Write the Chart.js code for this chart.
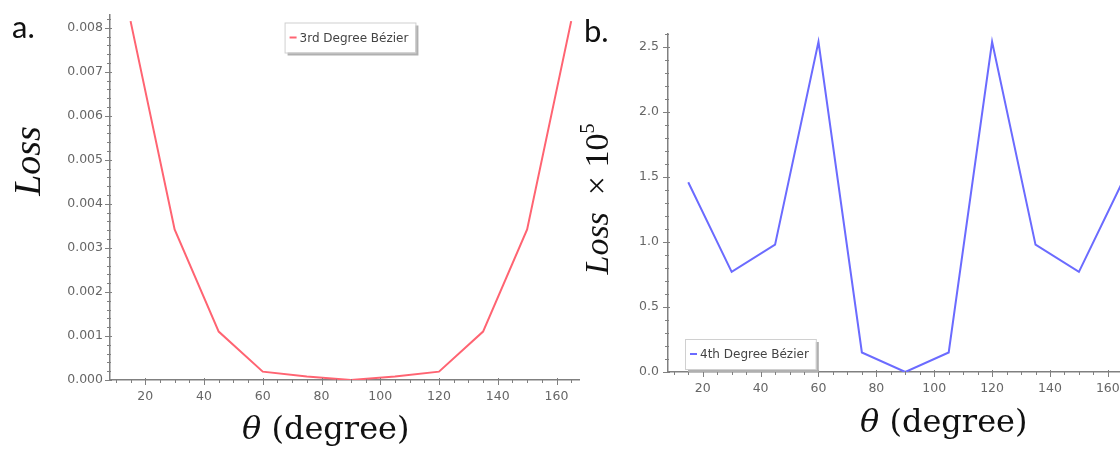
<!DOCTYPE html>
<html>
<head>
<meta charset="utf-8">
<script src="https://cdn.jsdelivr.net/npm/chart.js@4.4.1/dist/chart.umd.min.js"></script>
<style>
    html, body { margin: 0; padding: 0; overflow: hidden; background: #fff; }
    body { width: 1120px; height: 452px; position: relative; }
    canvas { position: absolute; top: 0; }
    #chartA { left: 0; }
    #chartB { left: 580px; }
</style>
</head>
<body>
<canvas id="chartA" width="580" height="452"></canvas>
<canvas id="chartB" width="551" height="452"></canvas>
<script>
// theta in degrees
const angles = [15, 30, 45, 60, 75, 90, 105, 120, 135, 150, 165];
// loss of the 3rd degree Bezier fit
const lossCubic = [0.00815, 0.00342, 0.0011, 0.00019, 0.00008, 0, 0.00008, 0.00019, 0.0011, 0.00342, 0.00815];
// loss of the 4th degree Bezier fit (x 10^5)
const lossQuartic = [1.46, 0.77, 0.98, 2.54, 0.15, 0, 0.15, 2.54, 0.98, 0.77, 1.46];

const xTicks = [20, 40, 60, 80, 100, 120, 140, 160];
const yTicksA = [0, 0.001, 0.002, 0.003, 0.004, 0.005, 0.006, 0.007, 0.008];
const yTicksB = [0, 0.5, 1.0, 1.5, 2.0, 2.5];

const axisColor = '#808080';
const tickFont = { family: 'DejaVu Sans', size: 12.5 };

// ticks, legend box, axis titles and panel letter (sage-style figure)
const decorPlugin = {
    id: 'decor',
    afterDraw(chart, args, opts) {
        const { ctx, chartArea: area, scales } = chart;
        const x = scales.x, y = scales.y;
        ctx.save();

        // major + minor ticks
        ctx.strokeStyle = axisColor;
        ctx.lineWidth = 1;
        ctx.beginPath();
        for (let i = Math.ceil(x.min / 5); i * 5 <= x.max; i++) {
            const px = Math.round(x.getPixelForValue(i * 5)) + 0.5;
            const major = i % 4 === 0;
            ctx.moveTo(px, area.bottom - (major ? 2 : 1));
            ctx.lineTo(px, area.bottom + (major ? 5 : 3));
        }
        const n = Math.floor(y.max / opts.yMinor + 1e-6);
        for (let i = 0; i <= n; i++) {
            const py = Math.round(y.getPixelForValue(i * opts.yMinor)) + 0.5;
            const major = i % 5 === 0;
            ctx.moveTo(area.left - (major ? 5 : 3), py);
            ctx.lineTo(area.left + (major ? 2 : 1), py);
        }
        ctx.stroke();

        // legend box
        const ds = chart.data.datasets[0];
        ctx.font = '12px "DejaVu Sans"';
        const tw = ctx.measureText(ds.label).width;
        const bw = tw + 22, bh = 30;
        let bx, by;
        if (opts.legend === 'top') {
            bx = (area.left + area.right) / 2 + 5 - bw / 2;
            by = area.top + 8;
        } else {
            bx = area.left + 17;
            by = area.bottom - bh - 3;
        }
        ctx.fillStyle = '#b0b0b0';
        ctx.fillRect(bx + 3, by + 3, bw, bh);
        ctx.fillStyle = '#fff';
        ctx.fillRect(bx, by, bw, bh);
        ctx.strokeStyle = '#d0d0d0';
        ctx.strokeRect(bx + 0.5, by + 0.5, bw, bh);
        ctx.strokeStyle = ds.borderColor;
        ctx.lineWidth = 2;
        ctx.beginPath();
        ctx.moveTo(bx + 5, by + bh / 2);
        ctx.lineTo(bx + 12, by + bh / 2);
        ctx.stroke();
        ctx.fillStyle = '#444';
        ctx.textBaseline = 'middle';
        ctx.fillText(ds.label, bx + 15, by + bh / 2 + 1);

        // panel letter
        ctx.textBaseline = 'alphabetic';
        ctx.fillStyle = '#111';
        ctx.font = '31px Lato';
        ctx.fillText(opts.panel, opts.panelX, opts.panelY);

        // x title: "θ (degree)"
        ctx.font = 'italic 32px "DejaVu Serif"';
        ctx.fillText('θ', opts.xTitleX, opts.xTitleY);
        const tw1 = ctx.measureText('θ ').width;
        ctx.font = '32px "DejaVu Serif"';
        ctx.fillText('(degree)', opts.xTitleX + tw1, opts.xTitleY);

        // y title, rotated
        ctx.translate(opts.yTitleX, opts.yTitleY);
        ctx.rotate(-Math.PI / 2);
        const fs = opts.yTitleSize;
        const parts = [
            { t: 'Loss', f: `italic ${fs}px "Liberation Serif"`, dy: 0 }
        ];
        if (opts.yScaleText) {
            parts.push({ t: '  × 10', f: `${fs}px "Liberation Serif"`, dy: 0 });
            parts.push({ t: opts.yScaleText, f: `${Math.round(fs * 0.6)}px "Liberation Serif"`, dy: -fs * 0.42 });
        }
        let total = 0;
        parts.forEach(p => { ctx.font = p.f; p.w = ctx.measureText(p.t).width; total += p.w; });
        let cx = -total / 2;
        parts.forEach(p => {
            ctx.font = p.f;
            ctx.fillText(p.t, cx, p.dy);
            cx += p.w;
        });

        ctx.restore();
    }
};

function makeChart(canvas, cfg) {
    return new Chart(canvas.getContext('2d'), {
        type: 'line',
        data: {
            datasets: [{
                label: cfg.label,
                data: angles.map((a, i) => ({ x: a, y: cfg.values[i] })),
                borderColor: cfg.color,
                borderWidth: 2,
                pointRadius: 0,
                tension: 0,
                fill: false
            }]
        },
        options: {
            responsive: false,
            animation: false,
            layout: { padding: { top: cfg.padTop, left: 0, right: 0, bottom: 0 } },
            plugins: {
                legend: { display: false },
                tooltip: { enabled: false },
                decor: cfg.decor
            },
            scales: {
                x: {
                    type: 'linear',
                    min: 8,
                    max: 168,
                    afterBuildTicks: scale => { scale.ticks = xTicks.map(v => ({ value: v })); },
                    afterFit: scale => { scale.height = cfg.xHeight; },
                    ticks: { font: tickFont, color: '#666', padding: 9, maxRotation: 0 },
                    grid: { display: true, drawOnChartArea: false, drawTicks: false },
                    border: { display: true, color: axisColor, width: 1.5 }
                },
                y: {
                    type: 'linear',
                    min: 0,
                    max: cfg.yMax,
                    afterBuildTicks: scale => { scale.ticks = cfg.yTicks.map(v => ({ value: v })); },
                    afterFit: scale => { scale.width = cfg.yWidth; },
                    ticks: {
                        font: tickFont,
                        color: '#666',
                        padding: cfg.yPad,
                        callback: v => v.toFixed(cfg.decimals)
                    },
                    grid: { display: true, drawOnChartArea: false, drawTicks: false },
                    border: { display: true, color: axisColor, width: 1.5 }
                }
            }
        },
        plugins: [decorPlugin]
    });
}

makeChart(document.getElementById('chartA'), {
    label: '3rd Degree Bézier',
    values: lossCubic,
    color: '#ff6472',
    yTicks: yTicksA,
    yMax: 0.0083,
    decimals: 3,
    padTop: 12,
    xHeight: 72,
    yWidth: 110,
    yPad: 7,
    decor: {
        legend: 'top', yMinor: 0.0002,
        panel: 'a.', panelX: 12, panelY: 38,
        xTitleX: 242, xTitleY: 439,
        yTitleX: 40, yTitleY: 161, yTitleSize: 38, yScaleText: ''
    }
});

makeChart(document.getElementById('chartB'), {
    label: '4th Degree Bézier',
    values: lossQuartic,
    color: '#6b6bff',
    yTicks: yTicksB,
    yMax: 2.6,
    decimals: 1,
    padTop: 34,
    xHeight: 80,
    yWidth: 88,
    yPad: 9,
    decor: {
        legend: 'bottomLeft', yMinor: 0.1,
        panel: 'b.', panelX: 4, panelY: 42,
        xTitleX: 280, xTitleY: 432,
        yTitleX: 28, yTitleY: 199, yTitleSize: 34, yScaleText: '5'
    }
});
</script>
</body>
</html>
